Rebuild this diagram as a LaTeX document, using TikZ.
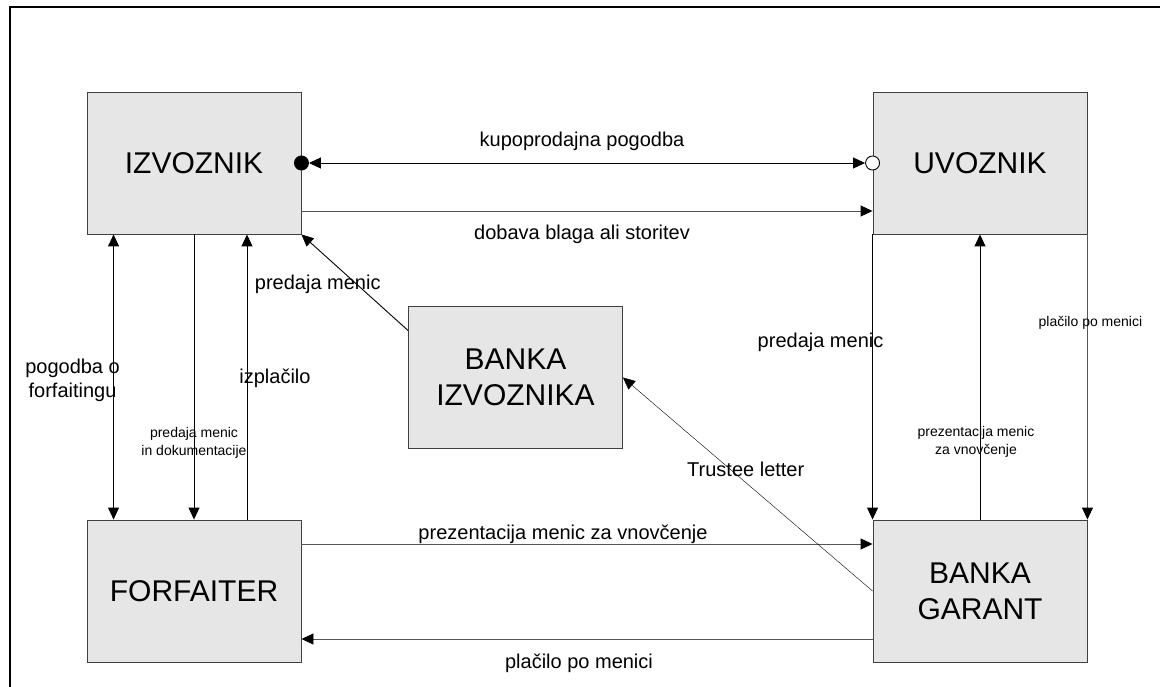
\documentclass[tikz,border=0pt]{standalone}
\usepackage{fontspec}
\setmainfont{Liberation Sans}
\usetikzlibrary{arrows.meta}
\definecolor{polje}{RGB}{230,230,230}
\definecolor{rob}{RGB}{64,64,64}
\definecolor{crta}{RGB}{85,85,85}

\begin{document}
\begin{tikzpicture}[x=1pt, y=-1pt, line width=0.9pt,
		>={Triangle[length=12pt,width=11pt,color=black]},
		akter/.style={draw=rob, fill=polje, minimum width=214pt, minimum height=142pt,
			inner sep=0pt, align=center, font=\fontsize{30}{36}\selectfont},
		opis/.style={text=black, font=\fontsize{20}{24}\selectfont, inner sep=0pt},
		drobno/.style={text=black, font=\fontsize{14}{18}\selectfont, inner sep=0pt, align=center}]

			\useasboundingbox (0,0) rectangle (1160,687);

			% okvir
			\draw[line width=2.5pt] (10,700) -- (10,7) -- (1170,7);

			% akterji
			\node[akter] (izv) at (194,163) {IZVOZNIK};
			\node[akter] (uvo) at (980,163) {UVOZNIK};
			\node[akter] (forf) at (194,591) {FORFAITER};
			\node[akter] (bg) at (980,591) {BANKA\\GARANT};
			\node[akter] (bi) at (515.5,377.5) {BANKA\\IZVOZNIKA};

			% zgoraj
			\draw[<->, shorten <=7.5pt, shorten >=7.5pt] (izv.east) -- (uvo.west)
				node[opis, midway, anchor=base, yshift=16pt, xshift=-5pt] {kupoprodajna pogodba};
			\fill (izv.east) circle (7.5pt);
			\draw[fill=white] (uvo.west) circle (7pt);
			\draw[->, crta] ([yshift=-48pt]izv.east) -- ([yshift=-48pt]uvo.west)
				node[opis, midway, anchor=base, yshift=-29pt, xshift=-5pt] {dobava blaga ali storitev};

			% levo
			\draw[<->] ([xshift=27pt]izv.south west) -- ([xshift=27pt]forf.north west)
				node[opis, midway, align=center, xshift=-41pt, yshift=-3pt] {pogodba o\\forfaitingu};
			\draw[->] (izv.south) -- (forf.north)
				node[drobno, pos=0.73] {predaja menic\\in dokumentacije};
			\draw[->] ([xshift=53pt]forf.north) -- ([xshift=53pt]izv.south)
				node[opis, midway, anchor=base, xshift=28pt, yshift=-6pt] {izplačilo};
			\draw[->] ([yshift=47pt]bi.west) -- (izv.south east)
				node[opis, midway, anchor=base, xshift=-37pt, yshift=-7pt] {predaja menic};

			% desno
			\draw[->] (uvo.south west) -- (bg.north west)
				node[opis, pos=0.395, anchor=base, xshift=-52pt] {predaja menic};
			\draw[->] (bg.north) -- (uvo.south)
				node[drobno, pos=0.273, xshift=-4pt] {prezentacija menic\\za vnovčenje};
			\draw[->, crta] (uvo.south east) -- (bg.north east)
				node[drobno, pos=0.324, anchor=base, xshift=3pt] {plačilo po menici};

			% spodaj
			\draw[->, crta] ([yshift=47pt]forf.east) -- ([yshift=47pt]bg.west)
				node[opis, midway, anchor=base, yshift=5pt, xshift=-24pt] {prezentacija menic za vnovčenje};
			\draw[->, crta] ([yshift=-48pt]bg.west) -- ([yshift=-48pt]forf.east)
				node[opis, midway, anchor=base, yshift=-29pt, xshift=-8pt] {plačilo po menici};
			\draw[->, line width=0.4pt] (bg.west) -- (bi.east)
				node[opis, midway, anchor=base, yshift=7.5pt, xshift=-2pt] {Trustee letter};
		\end{tikzpicture}
\end{document}
